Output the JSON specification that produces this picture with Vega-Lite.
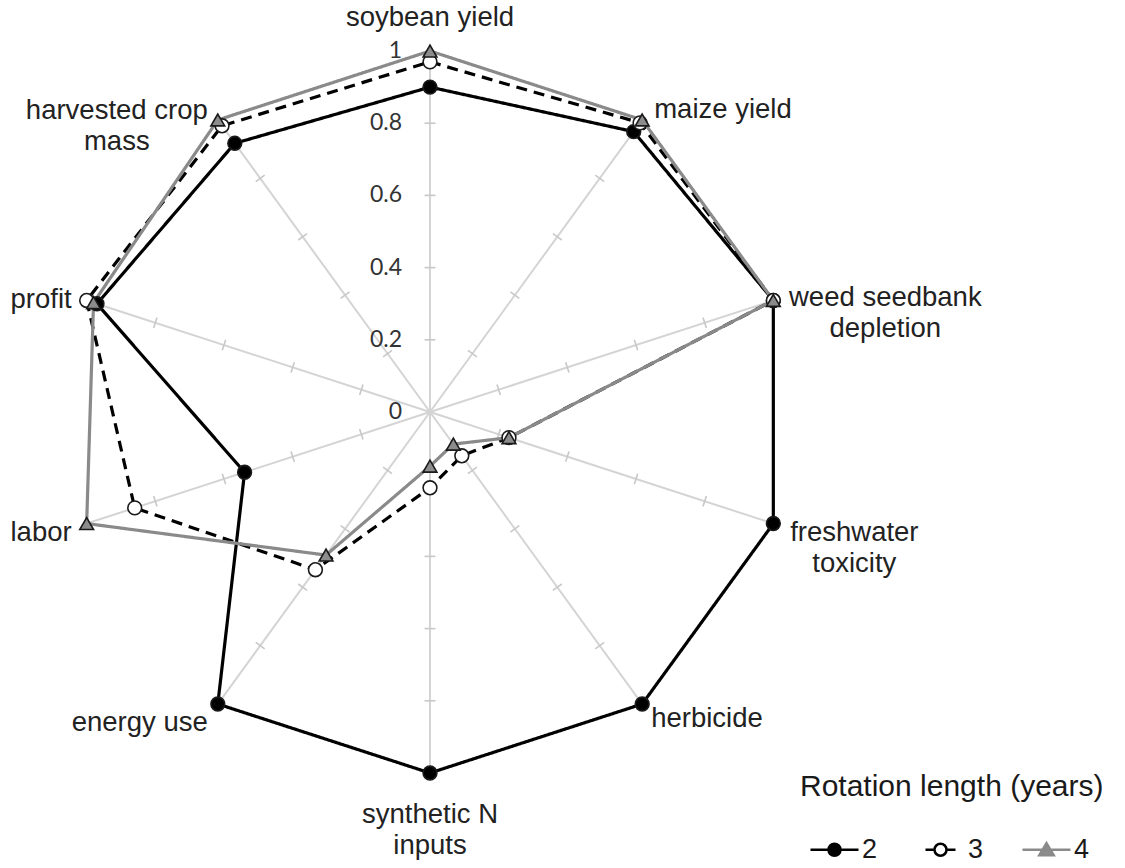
{
  "$schema": "https://vega.github.io/schema/vega-lite/v6.json",
  "width": 1125,
  "height": 868,
  "autosize": {"type": "none"},
  "padding": 0,
  "background": "white",
  "config": {"view": {"stroke": null}, "font": "Liberation Sans"},
  "datasets": {
    "axes": [
      {"idx": 0, "label": "soybean yield", "ticks": [0.2, 0.4, 0.6, 0.8]},
      {"idx": 1, "label": "maize yield", "ticks": [0.2, 0.4, 0.6, 0.8]},
      {"idx": 2, "label": ["weed seedbank", "depletion"], "ticks": [0.2, 0.4, 0.6, 0.8]},
      {"idx": 3, "label": ["freshwater", "toxicity"], "ticks": [0.2, 0.4, 0.6, 0.8]},
      {"idx": 4, "label": "herbicide", "ticks": [0.2, 0.4, 0.6, 0.8]},
      {"idx": 5, "label": ["synthetic N", "inputs"], "ticks": [0.2, 0.4, 0.6, 0.8]},
      {"idx": 6, "label": "energy use", "ticks": [0.2, 0.4, 0.6, 0.8]},
      {"idx": 7, "label": "labor", "ticks": [0.2, 0.4, 0.6, 0.8]},
      {"idx": 8, "label": "profit", "ticks": [0.2, 0.4, 0.6, 0.8]},
      {"idx": 9, "label": ["harvested crop", "mass"], "ticks": [0.2, 0.4, 0.6, 0.8]}
    ],
    "levels": [
      {"level": 0}, {"level": 0.2}, {"level": 0.4}, {"level": 0.6}, {"level": 0.8}, {"level": 1}
    ],
    "scores": [
      {"rotation": "2", "idx": 0, "value": 0.9},
      {"rotation": "2", "idx": 1, "value": 0.96},
      {"rotation": "2", "idx": 2, "value": 1.0},
      {"rotation": "2", "idx": 3, "value": 1.0},
      {"rotation": "2", "idx": 4, "value": 1.0},
      {"rotation": "2", "idx": 5, "value": 1.0},
      {"rotation": "2", "idx": 6, "value": 1.0},
      {"rotation": "2", "idx": 7, "value": 0.54},
      {"rotation": "2", "idx": 8, "value": 0.97},
      {"rotation": "2", "idx": 9, "value": 0.92},
      {"rotation": "3", "idx": 0, "value": 0.97},
      {"rotation": "3", "idx": 1, "value": 0.99},
      {"rotation": "3", "idx": 2, "value": 1.0},
      {"rotation": "3", "idx": 3, "value": 0.23},
      {"rotation": "3", "idx": 4, "value": 0.15},
      {"rotation": "3", "idx": 5, "value": 0.21},
      {"rotation": "3", "idx": 6, "value": 0.54},
      {"rotation": "3", "idx": 7, "value": 0.86},
      {"rotation": "3", "idx": 8, "value": 1.0},
      {"rotation": "3", "idx": 9, "value": 0.98},
      {"rotation": "4", "idx": 0, "value": 1.0},
      {"rotation": "4", "idx": 1, "value": 1.0},
      {"rotation": "4", "idx": 2, "value": 1.0},
      {"rotation": "4", "idx": 3, "value": 0.23},
      {"rotation": "4", "idx": 4, "value": 0.11},
      {"rotation": "4", "idx": 5, "value": 0.15},
      {"rotation": "4", "idx": 6, "value": 0.49},
      {"rotation": "4", "idx": 7, "value": 1.0},
      {"rotation": "4", "idx": 8, "value": 0.98},
      {"rotation": "4", "idx": 9, "value": 1.0}
    ]
  },
  "encoding": {
    "x": {"field": "px", "type": "quantitative", "scale": {"domain": [-1.1911, 1.9252], "nice": false, "zero": false}, "axis": null},
    "y": {"field": "py", "type": "quantitative", "scale": {"domain": [-1.2632, 1.1413], "nice": false, "zero": false}, "axis": null}
  },
  "layer": [
    {
      "data": {"name": "axes"},
      "transform": [
        {"calculate": "sin(datum.idx*PI/5)", "as": "px"},
        {"calculate": "cos(datum.idx*PI/5)", "as": "py"}
      ],
      "mark": {"type": "rule", "stroke": "#d4d4d4", "strokeWidth": 2},
      "encoding": {"x2": {"datum": 0}, "y2": {"datum": 0}}
    },
    {
      "data": {"name": "axes"},
      "transform": [
        {"flatten": ["ticks"]},
        {"calculate": "datum.ticks*sin(datum.idx*PI/5)", "as": "px"},
        {"calculate": "datum.ticks*cos(datum.idx*PI/5)", "as": "py"},
        {"calculate": "datum.idx*36", "as": "deg"}
      ],
      "mark": {"type": "point", "shape": "M-1,0L1,0", "size": 120, "filled": false, "stroke": "#c8c8c8", "strokeWidth": 1.6, "opacity": 1},
      "encoding": {"angle": {"field": "deg", "type": "quantitative", "scale": null}}
    },
    {
      "data": {"name": "levels"},
      "transform": [
        {"calculate": "0", "as": "px"},
        {"calculate": "datum.level", "as": "py"}
      ],
      "mark": {"type": "text", "align": "right", "baseline": "middle", "dx": -28, "fontSize": 23, "font": "Lato", "color": "#333333"},
      "encoding": {"text": {"field": "level", "type": "quantitative", "format": ".1~f"}}
    },
    {
      "data": {"name": "scores"},
      "transform": [
        {"calculate": "datum.value*sin(datum.idx*PI/5)", "as": "px"},
        {"calculate": "datum.value*cos(datum.idx*PI/5)", "as": "py"}
      ],
      "mark": {"type": "line", "interpolate": "linear-closed", "strokeWidth": 3.2},
      "encoding": {
        "stroke": {"field": "rotation", "type": "nominal", "scale": {"domain": ["2", "3", "4"], "range": ["#000000", "#000000", "#8a8a8a"]}},
        "strokeDash": {"field": "rotation", "type": "nominal", "scale": {"range": [[1, 0], [11, 7], [1, 0]]}, "legend": null},
        "order": {"field": "idx", "type": "quantitative"}
      }
    },
    {
      "data": {"name": "scores"},
      "transform": [
        {"calculate": "datum.value*sin(datum.idx*PI/5)", "as": "px"},
        {"calculate": "datum.value*cos(datum.idx*PI/5)", "as": "py"}
      ],
      "mark": {"type": "point", "filled": true, "size": 190, "stroke": "#1a1a1a", "strokeWidth": 1.6, "opacity": 1},
      "encoding": {
        "fill": {"condition": [{"test": "datum.rotation === '2'", "value": "#000000"}, {"test": "datum.rotation === '3'", "value": "#ffffff"}], "value": "#8c8c8c"},
        "shape": {"condition": {"test": "datum.rotation === '4'", "value": "triangle-up"}, "value": "circle"}
      }
    },
    {
      "data": {"name": "scores"},
      "transform": [
        {"filter": "false"},
        {"calculate": "datum.value", "as": "px"},
        {"calculate": "datum.value", "as": "py"}
      ],
      "mark": {"type": "point", "filled": true, "strokeWidth": 2.5},
      "encoding": {
        "fill": {"field": "rotation", "type": "nominal", "scale": {"domain": ["2", "3", "4"], "range": ["#000000", "#ffffff", "#8c8c8c"]}},
        "shape": {
          "field": "rotation", "type": "nominal",
          "scale": {"domain": ["2", "3", "4"], "range": [
            "M-4,0H4M1,0A1,1,0,1,1,-1,0A1,1,0,1,1,1,0Z",
            "M-2.5,0H-1M1,0H2.5M1,0A1,1,0,1,1,-1,0A1,1,0,1,1,1,0Z",
            "M-4,0H4M0,-1.1L1.2,0.9L-1.2,0.9Z"
          ]},
          "legend": {
            "title": "Rotation length (years)",
            "orient": "none",
            "legendX": 800,
            "legendY": 772,
            "direction": "horizontal",
            "padding": 0,
            "titleFont": "Liberation Sans",
            "titleFontSize": 30,
            "titleFontWeight": "normal",
            "titleColor": "#1a1a1a",
            "titleLimit": 400,
            "titlePadding": 34,
            "labelFont": "Liberation Sans",
            "labelFontSize": 27,
            "labelColor": "#1a1a1a",
            "symbolSize": 144,
            "symbolStrokeWidth": 2.5,
            "symbolOpacity": 1,
            "symbolOffset": 21,
            "labelOffset": 14,
            "columnPadding": 28
          }
        }
      }
    },
    {
      "data": {"name": "axes"},
      "transform": [{"filter": "datum.idx == 0"}, {"calculate": "sin(datum.idx*PI/5)", "as": "px"}, {"calculate": "cos(datum.idx*PI/5)", "as": "py"}],
      "mark": {"type": "text", "align": "center", "baseline": "middle", "dx": 0, "dy": -33, "fontSize": 27.5, "font": "Liberation Sans", "color": "#222222", "lineHeight": 31},
      "encoding": {"text": {"field": "label"}}
    },
    {
      "data": {"name": "axes"},
      "transform": [{"filter": "datum.idx == 1"}, {"calculate": "sin(datum.idx*PI/5)", "as": "px"}, {"calculate": "cos(datum.idx*PI/5)", "as": "py"}],
      "mark": {"type": "text", "align": "left", "baseline": "middle", "dx": 12, "dy": -10, "fontSize": 27.5, "font": "Liberation Sans", "color": "#222222", "lineHeight": 31},
      "encoding": {"text": {"field": "label"}}
    },
    {
      "data": {"name": "axes"},
      "transform": [{"filter": "datum.idx == 2"}, {"calculate": "sin(datum.idx*PI/5)", "as": "px"}, {"calculate": "cos(datum.idx*PI/5)", "as": "py"}],
      "mark": {"type": "text", "align": "center", "baseline": "middle", "dx": 112, "dy": -2, "fontSize": 27.5, "font": "Liberation Sans", "color": "#222222", "lineHeight": 31},
      "encoding": {"text": {"field": "label"}}
    },
    {
      "data": {"name": "axes"},
      "transform": [{"filter": "datum.idx == 3"}, {"calculate": "sin(datum.idx*PI/5)", "as": "px"}, {"calculate": "cos(datum.idx*PI/5)", "as": "py"}],
      "mark": {"type": "text", "align": "center", "baseline": "middle", "dx": 81, "dy": 9, "fontSize": 27.5, "font": "Liberation Sans", "color": "#222222", "lineHeight": 31},
      "encoding": {"text": {"field": "label"}}
    },
    {
      "data": {"name": "axes"},
      "transform": [{"filter": "datum.idx == 4"}, {"calculate": "sin(datum.idx*PI/5)", "as": "px"}, {"calculate": "cos(datum.idx*PI/5)", "as": "py"}],
      "mark": {"type": "text", "align": "left", "baseline": "middle", "dx": 9, "dy": 15, "fontSize": 27.5, "font": "Liberation Sans", "color": "#222222", "lineHeight": 31},
      "encoding": {"text": {"field": "label"}}
    },
    {
      "data": {"name": "axes"},
      "transform": [{"filter": "datum.idx == 5"}, {"calculate": "sin(datum.idx*PI/5)", "as": "px"}, {"calculate": "cos(datum.idx*PI/5)", "as": "py"}],
      "mark": {"type": "text", "align": "center", "baseline": "middle", "dx": 0, "dy": 42, "fontSize": 27.5, "font": "Liberation Sans", "color": "#222222", "lineHeight": 31},
      "encoding": {"text": {"field": "label"}}
    },
    {
      "data": {"name": "axes"},
      "transform": [{"filter": "datum.idx == 6"}, {"calculate": "sin(datum.idx*PI/5)", "as": "px"}, {"calculate": "cos(datum.idx*PI/5)", "as": "py"}],
      "mark": {"type": "text", "align": "right", "baseline": "middle", "dx": -10, "dy": 19, "fontSize": 27.5, "font": "Liberation Sans", "color": "#222222", "lineHeight": 31},
      "encoding": {"text": {"field": "label"}}
    },
    {
      "data": {"name": "axes"},
      "transform": [{"filter": "datum.idx == 7"}, {"calculate": "sin(datum.idx*PI/5)", "as": "px"}, {"calculate": "cos(datum.idx*PI/5)", "as": "py"}],
      "mark": {"type": "text", "align": "right", "baseline": "middle", "dx": -15, "dy": 9, "fontSize": 27.5, "font": "Liberation Sans", "color": "#222222", "lineHeight": 31},
      "encoding": {"text": {"field": "label"}}
    },
    {
      "data": {"name": "axes"},
      "transform": [{"filter": "datum.idx == 8"}, {"calculate": "sin(datum.idx*PI/5)", "as": "px"}, {"calculate": "cos(datum.idx*PI/5)", "as": "py"}],
      "mark": {"type": "text", "align": "right", "baseline": "middle", "dx": -15, "dy": 0, "fontSize": 27.5, "font": "Liberation Sans", "color": "#222222", "lineHeight": 31},
      "encoding": {"text": {"field": "label"}}
    },
    {
      "data": {"name": "axes"},
      "transform": [{"filter": "datum.idx == 9"}, {"calculate": "sin(datum.idx*PI/5)", "as": "px"}, {"calculate": "cos(datum.idx*PI/5)", "as": "py"}],
      "mark": {"type": "text", "align": "center", "baseline": "middle", "dx": -101, "dy": -9, "fontSize": 27.5, "font": "Liberation Sans", "color": "#222222", "lineHeight": 31},
      "encoding": {"text": {"field": "label"}}
    }
  ]
}
